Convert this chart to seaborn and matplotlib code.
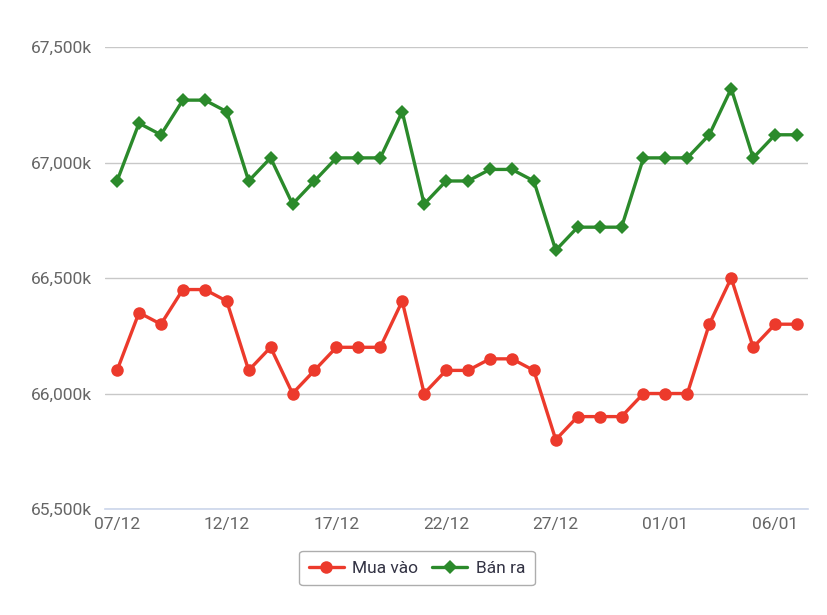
import matplotlib
matplotlib.use("Agg")
import matplotlib.pyplot as plt
import seaborn as sns
import pandas as pd
import numpy as np
from matplotlib.ticker import FuncFormatter, MultipleLocator

dates = ["07/12","08/12","09/12","10/12","11/12","12/12","13/12","14/12","15/12","16/12",
         "17/12","18/12","19/12","20/12","21/12","22/12","23/12","24/12","25/12","26/12",
         "27/12","28/12","29/12","30/12","31/12","01/01","02/01","03/01","04/01","05/01",
         "06/01","07/01"]
mua_vao = [66100,66350,66300,66450,66450,66400,66100,66200,66000,66100,
           66200,66200,66200,66400,66000,66100,66100,66150,66150,66100,
           65800,65900,65900,65900,66000,66000,66000,66300,66500,66200,
           66300,66300]
ban_ra = [66920,67170,67120,67270,67270,67220,66920,67020,66820,66920,
          67020,67020,67020,67220,66820,66920,66920,66970,66970,66920,
          66620,66720,66720,66720,67020,67020,67020,67120,67320,67020,
          67120,67120]
series_names = ["Mua vào", "Bán ra"]
colors = ["#ec3a2c", "#2b8a2b"]

sns.set_theme(style="white")
plt.rcParams['font.family'] = ['Roboto', 'DejaVu Sans']

df = pd.DataFrame({
    "idx": list(range(len(dates))) * 2,
    "value": mua_vao + ban_ra,
    "series": [series_names[0]] * len(dates) + [series_names[1]] * len(dates),
})

fig = plt.figure(figsize=(8.27, 6.15), dpi=100)
ax = fig.add_axes([105/827, 106/615, (808-105)/827, (509-47)/615])

sns.lineplot(data=df, x="idx", y="value", hue="series", style="series",
             palette=colors, markers=["o", "D"], dashes=False, linewidth=2.4,
             markersize=9, markeredgewidth=0, ax=ax, legend=True)
for line in ax.get_lines():
    if line.get_marker() == "D":
        line.set_markersize(7.5)

ax.set_ylim(65500, 67500)
ax.set_xlim(-0.55, 31.5)
ax.yaxis.set_major_locator(MultipleLocator(500))
ax.yaxis.set_major_formatter(FuncFormatter(lambda v, p: f"{int(v):,}k"))
ax.grid(axis="y", color="#c8c8c8", linewidth=1)
ax.set_axisbelow(True)

ax.set_xticks(range(0, len(dates), 5))
ax.set_xticklabels([dates[i] for i in range(0, len(dates), 5)])
ax.set_xticks(range(len(dates)), minor=True)
ax.tick_params(axis="x", which="both", direction="out", length=6, width=1,
               color="#ccd6eb", labelsize=12.5, labelcolor="#666666", pad=0)
ax.tick_params(axis="y", length=0, labelsize=12.5, labelcolor="#666666", pad=9)

for s in ["top", "right", "left"]:
    ax.spines[s].set_visible(False)
ax.spines["bottom"].set_color("#ccd6eb")
ax.spines["bottom"].set_linewidth(1.2)
ax.set_xlabel("")
ax.set_ylabel("")

handles, labels = ax.get_legend_handles_labels()
leg = ax.legend(handles, labels, loc="center", bbox_to_anchor=(417/827, 1 - 568/615),
                bbox_transform=fig.transFigure, ncol=2, frameon=True, fontsize=12.5,
                handlelength=2.0, columnspacing=0.8, handletextpad=0.5,
                borderpad=0.55, fancybox=True)
leg.get_frame().set_edgecolor("#999999")
leg.get_frame().set_linewidth(1)
for t in leg.get_texts():
    t.set_color("#333344")

fig.savefig("out.png", dpi=100)
